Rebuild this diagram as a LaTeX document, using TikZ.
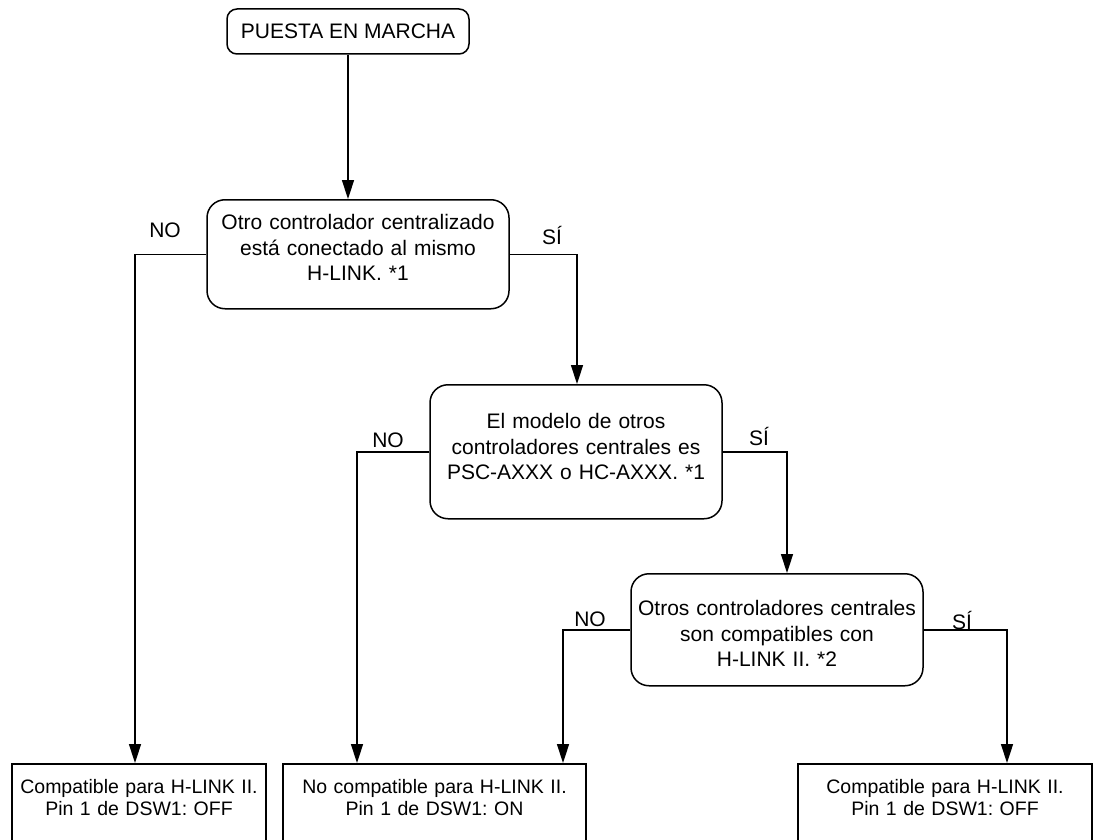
\documentclass[tikz,border=0pt]{standalone}
\usepackage{fontspec}
\setmainfont{Liberation Sans}
\usetikzlibrary{arrows.meta}
\frenchspacing

\begin{document}
\begin{tikzpicture}[
  x=1pt, y=-1pt,
  line width=1.5pt,
  startbox/.style={draw, rounded corners=10pt, minimum width=242pt,
    minimum height=45pt, inner sep=0pt, font=\fontsize{21}{25}\selectfont},
  decision/.style={draw, rounded corners=18pt, align=center, inner sep=0pt,
    font=\fontsize{21}{25.5}\selectfont},
  result/.style={draw, align=center, inner sep=0pt,
    font=\fontsize{19.5}{21.5}\selectfont},
  lbl/.style={font=\fontsize{21}{24}\selectfont},
  arr/.style={-{Triangle[length=19pt,width=12pt]}}
]
\clip (0,0) rectangle (1097,840);

% start
\node[startbox] (start) at (348,31.5) {PUESTA EN MARCHA};

% decisions
\node[decision, anchor=north, text width=302pt, text height=30pt, text depth=79pt]
  (d1) at (358,199) {Otro controlador centralizado\\está conectado al mismo\\H-LINK. *1};
\node[decision, anchor=north, text width=292pt, text height=44pt, text depth=90pt]
  (d2) at (576,384) {El modelo de otros\\controladores centrales es\\PSC-AXXX o HC-AXXX. *1};
\node[decision, anchor=north, text width=292pt, text height=42pt, text depth=70pt]
  (d3) at (777,573) {Otros controladores centrales\\son compatibles con\\H-LINK II. *2};

% results
\node[result, anchor=north, text width=254pt, text height=30pt, text depth=67pt]
  (r1) at (139,763) {Compatible para H-LINK II.\\Pin 1 de DSW1: OFF};
\node[result, anchor=north, text width=303pt, text height=30pt, text depth=67pt]
  (r2) at (434.5,763) {No compatible para H-LINK II.\\Pin 1 de DSW1: ON};
\node[result, anchor=north, text width=294pt, text height=30pt, text depth=67pt]
  (r3) at (945,763) {Compatible para H-LINK II.\\Pin 1 de DSW1: OFF};

% branch labels
\node[lbl] (no1) at (165,230) {NO};
\node[lbl] (si1) at (552,235) {SÍ};
\node[lbl] (no2) at (388,440) {NO};
\node[lbl] (si2) at (759,436) {SÍ};
\node[lbl] (no3) at (590,619) {NO};
\node[lbl] (si3) at (962,620) {SÍ};

% connectors
\draw[arr] (start.south) -- (start.south |- d1.north);
\draw[arr] (d1.west) -| ([xshift=-4pt]r1.north);
\draw[arr] (d1.east) -| ([xshift=1pt]d2.north);
\draw[arr] (d2.west) -| ([xshift=-77.5pt]r2.north);
\draw[arr] (d2.east) -| ([xshift=10pt]d3.north);
\draw[arr] (d3.west) -| ([xshift=128.5pt]r2.north);
\draw[arr] (d3.east) -| ([xshift=62pt]r3.north);
\end{tikzpicture}
\end{document}
